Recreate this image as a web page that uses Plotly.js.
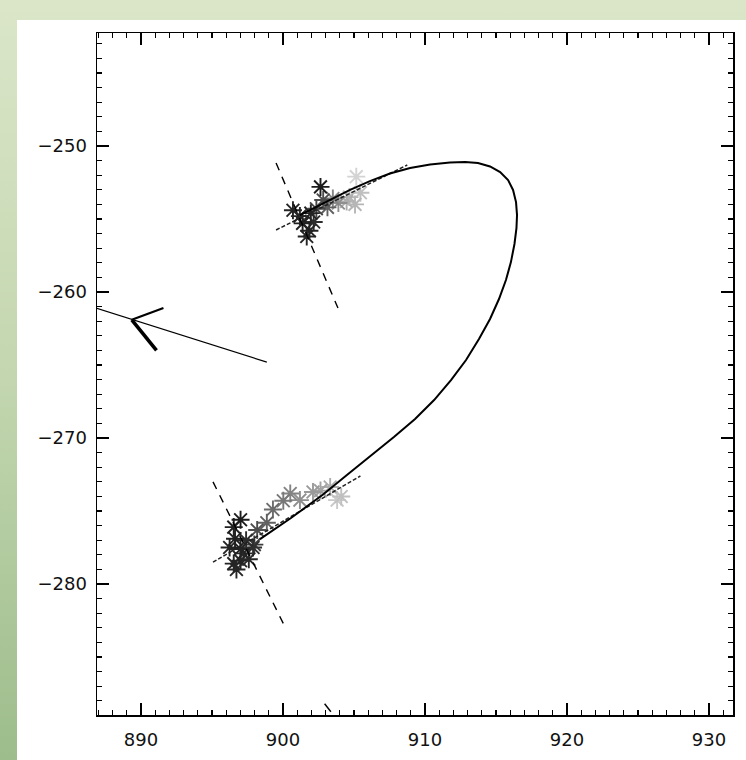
<!DOCTYPE html>
<html>
<head>
<meta charset="utf-8">
<script src="https://cdn.plot.ly/plotly-3.0.1.min.js"></script>
<style>
  html, body { margin: 0; padding: 0; }
  body {
    width: 746px; height: 760px; overflow: hidden; position: relative;
    background: linear-gradient(to bottom, #dbe6c9 0%, #c3d6af 50%, #9dbd8c 100%);
  }
  #chart { position: absolute; left: 17px; top: 20px; width: 729px; height: 740px; background: #fff; }
</style>
</head>
<body>
<div id="chart"></div>
<script>
// Fitted track (solid curve)
var trackX = [901.19, 902.96, 904.72, 906.12, 907.53, 908.95, 910.36, 911.76, 912.82, 913.73, 914.58, 915.29, 915.85, 916.20, 916.41, 916.48,
              916.44, 916.30, 916.05, 915.70, 915.21, 914.58, 913.80, 912.89, 911.83, 910.64, 909.30, 907.81, 906.12, 904.50, 902.82, 900.56, 898.38];
var trackY = [-254.73, -253.84, -253.01, -252.40, -251.88, -251.51, -251.27, -251.13, -251.10, -251.16, -251.40, -251.78, -252.33, -253.01, -253.84, -254.73,
              -255.62, -256.71, -257.95, -259.18, -260.48, -261.85, -263.22, -264.66, -266.03, -267.40, -268.70, -269.93, -271.23, -272.53, -273.87, -275.48, -276.92];

// Tangent and normal guide segments at the two footpoints
var tanUpX = [899.51, 908.75],  tanUpY = [-255.75, -251.3];
var nrmUpX = [899.51, 903.87],  nrmUpY = [-251.16, -261.1];
var tanLoX = [895.07, 905.45],  tanLoY = [-278.5, -272.6];
var nrmLoX = [895.07, 900.02],  nrmLoY = [-273.0, -282.7];
var nrmLoTailX = [902.93, 903.37], nrmLoTailY = [-288.2, -288.75];

// Direction indicator
var dirX = [886.82, 898.86],    dirY = [-261.1, -264.8];
var headUpX = [891.58, 889.35], headUpY = [-261.1, -261.9];
var headLoX = [889.35, 891.09], headLoY = [-261.9, -264.0];

// Tracked positions, shaded by sequence level (0 = early/dark, 1 = late/light)
var ptsX = [905.16, 905.45, 904.68, 904.48, 905.07, 903.90, 903.51, 903.13, 902.83, 902.35, 902.16, 901.19, 901.67, 900.70, 901.86, 901.38, 901.96, 902.64,
            903.81, 904.10, 903.32, 902.64, 902.11, 901.19, 900.51, 900.02, 899.29, 898.86, 898.18, 897.98, 897.89, 897.40, 897.21, 897.01, 896.53, 896.24, 896.53, 896.72, 897.01, 896.62, 897.59, 897.01];
var ptsY = [-252.1, -253.2, -253.5, -253.8, -254.0, -253.9, -253.6, -254.2, -253.7, -254.3, -255.2, -254.8, -256.2, -254.4, -255.8, -255.3, -254.6, -252.8,
            -274.25, -274.0, -273.35, -273.6, -273.7, -274.25, -273.8, -274.3, -274.9, -275.8, -276.3, -277.3, -277.5, -277.0, -277.9, -278.4, -278.6, -277.5, -276.1, -279.0, -277.6, -276.9, -278.3, -275.6];
var ptsLevel = [0.95, 0.85, 0.8, 0.75, 0.8, 0.6, 0.55, 0.4, 0.3, 0.25, 0.1, 0.08, 0.06, 0.05, 0.04, 0.03, 0.05, 0.0,
                0.9, 0.85, 0.75, 0.7, 0.65, 0.6, 0.55, 0.5, 0.45, 0.4, 0.3, 0.2, 0.12, 0.1, 0.08, 0.05, 0.05, 0.04, 0.03, 0.06, 0.04, 0.02, 0.07, 0.0];

var xTicks = [890, 900, 910, 920, 930];
var yTicks = [-280, -270, -260, -250];

var seg = function (x, y, w, dash, color) {
  return { type: 'scatter', mode: 'lines', x: x, y: y, hoverinfo: 'skip',
           line: { color: color || '#000', width: w, dash: dash || 'solid' } };
};

var traces = [
  {
    type: 'scatter', mode: 'markers', x: ptsX, y: ptsY, hoverinfo: 'skip',
    marker: { symbol: 'asterisk-open', size: 15, color: ptsLevel, cmin: 0, cmax: 1,
              colorscale: [[0, '#1c1c1c'], [0.35, '#555555'], [0.65, '#9a9a9a'], [1, '#dcdcdc']],
              line: { width: 1.9 } }
  },
  seg(tanUpX, tanUpY, 1.5, '4px,2px', '#222'),
  seg(tanLoX, tanLoY, 1.5, '4px,2px', '#222'),
  seg(nrmUpX, nrmUpY, 1.4, '8px,7px'),
  seg(nrmLoX, nrmLoY, 1.4, '8px,7px'),
  seg(nrmLoTailX, nrmLoTailY, 1.4),
  seg(trackX, trackY, 2),
  seg(dirX, dirY, 1.2),
  seg(headUpX, headUpY, 2.2),
  seg(headLoX, headLoY, 3.6)
];

var axisFont = { family: 'DejaVu Sans, sans-serif', size: 18, color: '#111' };

var layout = {
  width: 729, height: 740,
  margin: { l: 80, r: 13, t: 13, b: 45 },
  paper_bgcolor: '#ffffff', plot_bgcolor: '#ffffff',
  showlegend: false,
  xaxis: {
    range: [886.9, 931.69], tickvals: xTicks, ticktext: xTicks.map(String),
    ticks: 'inside', ticklen: 12, tickwidth: 1.3, tickcolor: '#000',
    minor: { dtick: 1, tick0: 0, ticks: 'inside', ticklen: 5, tickwidth: 1.1, tickcolor: '#000' },
    showline: true, linecolor: '#000', linewidth: 1.5, mirror: 'ticks',
    showgrid: false, zeroline: false, tickfont: axisFont, ticklabelstandoff: 8
  },
  yaxis: {
    range: [-288.97, -242.26], tickvals: yTicks,
    ticks: 'inside', ticklen: 12, tickwidth: 1.3, tickcolor: '#000',
    minor: { dtick: 1, tick0: 0, ticks: 'inside', ticklen: 5, tickwidth: 1.1, tickcolor: '#000' },
    showline: true, linecolor: '#000', linewidth: 1.5, mirror: 'ticks',
    showgrid: false, zeroline: false, tickfont: axisFont, ticklabelstandoff: 5
  }
};

Plotly.newPlot('chart', traces, layout, { staticPlot: true, displayModeBar: false });
</script>
</body>
</html>
